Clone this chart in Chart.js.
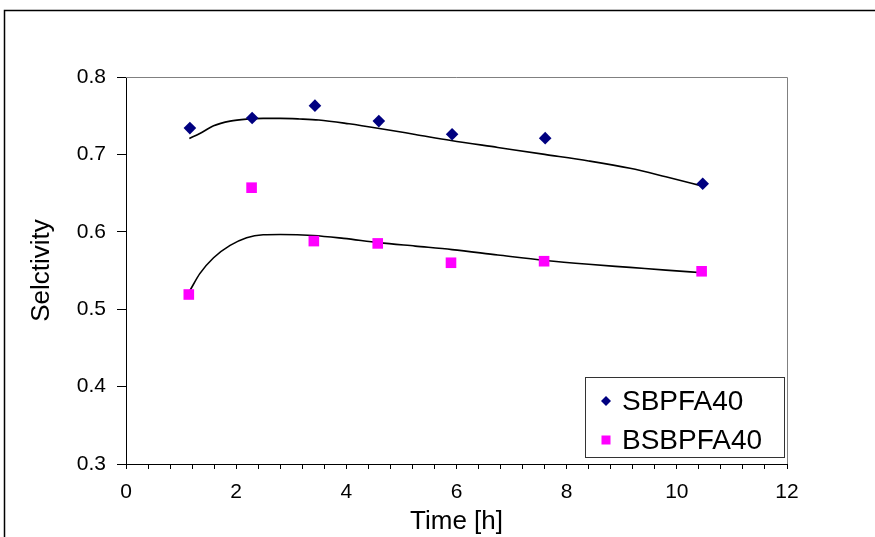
<!DOCTYPE html>
<html>
<head>
<meta charset="utf-8">
<script src="https://cdn.jsdelivr.net/npm/chart.js@4.4.1/dist/chart.umd.min.js"></script>
<style>
  html, body { margin: 0; padding: 0; background: #fff; }
  #wrap { width: 875px; height: 537px; position: relative; }
</style>
</head>
<body>
<div id="wrap"><canvas id="c" width="875" height="537"></canvas></div>
<script>
// ---- data ----
const seriesNames = ['SBPFA40', 'BSBPFA40'];
const sbTime = [1.16, 2.29, 3.43, 4.59, 5.92, 7.61, 10.47];
const sbSel  = [0.734, 0.747, 0.763, 0.743, 0.726, 0.721, 0.662];
const bsTime = [1.14, 2.28, 3.41, 4.57, 5.90, 7.59, 10.45];
const bsSel  = [0.519, 0.657, 0.588, 0.585, 0.560, 0.562, 0.549];
// trend curves
const sbTrendX = [1.15, 1.34, 1.59, 1.89, 2.19, 2.49, 2.80, 3.15, 3.50, 4.05, 4.6, 5.25, 5.9, 6.75, 7.6, 8.4, 9.15, 9.8, 10.47];
const sbTrendY = [0.7206, 0.727, 0.737, 0.743, 0.7456, 0.7465, 0.7465, 0.7458, 0.7445, 0.7395, 0.7335, 0.7258, 0.718, 0.709, 0.700, 0.6915, 0.682, 0.671, 0.659];
const bsTrendX = [1.16, 1.34, 1.59, 1.89, 2.19, 2.49, 2.80, 3.40, 3.95, 4.59, 5.25, 5.92, 6.75, 7.61, 8.4, 9.15, 9.8, 10.47];
const bsTrendY = [0.524, 0.546, 0.5665, 0.5824, 0.5924, 0.5962, 0.5966, 0.5953, 0.5915, 0.586, 0.5815, 0.577, 0.570, 0.563, 0.558, 0.554, 0.5505, 0.547];
const xTitle = 'Time [h]';
const yTitle = 'Selctivity';

const zip = (xs, ys) => xs.map((x, i) => ({ x: x, y: ys[i] }));
const FONT = '"Liberation Sans", Arial, sans-serif';

const framePlugin = {
  id: 'frame',
  beforeDraw(chart) {
    const ctx = chart.ctx;
    ctx.save();
    ctx.fillStyle = '#fff';
    ctx.fillRect(0, 0, chart.width, chart.height);
    ctx.strokeStyle = '#000';
    ctx.lineWidth = 1.5;
    ctx.strokeRect(4.5, 10.5, 2000, 2000);
    ctx.restore();
  },
  afterDraw(chart) {
    const ctx = chart.ctx;
    const a = chart.chartArea;
    ctx.save();
    ctx.strokeStyle = '#808080';
    ctx.lineWidth = 1;
    ctx.beginPath();
    ctx.moveTo(a.left, a.top + 0.5);
    ctx.lineTo(a.right + 0.5, a.top + 0.5);
    ctx.lineTo(a.right + 0.5, a.bottom);
    ctx.stroke();
    // legend box
    const bx = 585, by = 377, bw = 199, bh = 80;
    ctx.fillStyle = '#fff';
    ctx.fillRect(bx, by, bw, bh);
    ctx.strokeStyle = '#333';
    ctx.lineWidth = 1;
    ctx.strokeRect(bx + 0.5, by + 0.5, bw, bh);
    const rows = [401, 440];
    ctx.font = '28px ' + FONT;
    ctx.textBaseline = 'middle';
    ctx.textAlign = 'left';
    [0, 1].forEach((i) => {
      const ds = chart.data.datasets[i];
      ctx.fillStyle = ds.backgroundColor;
      const cx = 606, cy = rows[i];
      if (ds.pointStyle === 'rectRot') {
        ctx.beginPath();
        ctx.moveTo(cx, cy - 5); ctx.lineTo(cx + 5, cy); ctx.lineTo(cx, cy + 5); ctx.lineTo(cx - 5, cy);
        ctx.closePath(); ctx.fill();
      } else {
        ctx.fillRect(cx - 4.5, cy - 4.5, 9, 9);
      }
      ctx.fillStyle = '#000';
      ctx.fillText(ds.label, 622, cy + 1);
    });
    ctx.restore();
  }
};

new Chart(document.getElementById('c'), {
  type: 'scatter',
  data: {
    datasets: [
      { label: seriesNames[0], data: zip(sbTime, sbSel), pointStyle: 'rectRot', pointRadius: 6.3,
        backgroundColor: '#000080', borderColor: '#000080', borderWidth: 0, order: 1 },
      { label: seriesNames[1], data: zip(bsTime, bsSel), pointStyle: 'rect', pointRadius: 7.5,
        backgroundColor: '#FF00FF', borderColor: '#FF00FF', borderWidth: 0, order: 1 },
      { label: 'trend1', data: zip(sbTrendX, sbTrendY), showLine: true, pointRadius: 0,
        borderColor: '#000', borderWidth: 1.6, cubicInterpolationMode: 'monotone', order: 2 },
      { label: 'trend2', data: zip(bsTrendX, bsTrendY), showLine: true, pointRadius: 0,
        borderColor: '#000', borderWidth: 1.6, cubicInterpolationMode: 'monotone', order: 2 }
    ]
  },
  options: {
    responsive: false,
    animation: false,
    devicePixelRatio: 1,
    layout: { padding: { top: 77, right: 88, left: 0, bottom: 0 } },
    plugins: { legend: { display: false }, tooltip: { enabled: false } },
    scales: {
      x: {
        type: 'linear', min: 0, max: 12,
        afterFit(s) { s.height = 73; },
        ticks: {
          stepSize: 0.4, autoSkip: false, maxRotation: 0, padding: 11,
          color: '#000', font: { family: FONT, size: 21 },
          callback(v) { const r = Math.round(v); return (Math.abs(v - r) < 1e-6 && r % 2 === 0) ? String(r) : ''; }
        },
        grid: { drawOnChartArea: false, drawTicks: true, tickLength: 5, color: '#000' },
        border: { display: true, color: '#000', width: 1 },
        title: { display: true, text: xTitle, color: '#000', font: { family: FONT, size: 26 },
                 padding: { top: 0, bottom: 0 } }
      },
      y: {
        type: 'linear', min: 0.3, max: 0.8,
        afterFit(s) { s.width = 126; },
        ticks: { stepSize: 0.1, padding: 11, color: '#000', font: { family: FONT, size: 21 },
                 callback(v) { return v.toFixed(1); } },
        grid: { drawOnChartArea: false, drawTicks: true, tickLength: 9, color: '#000' },
        border: { display: true, color: '#000', width: 1 },
        title: { display: true, text: yTitle, color: '#000', font: { family: FONT, size: 26 },
                 padding: { top: 26, bottom: 0 } }
      }
    }
  },
  plugins: [framePlugin]
});
</script>
</body>
</html>
